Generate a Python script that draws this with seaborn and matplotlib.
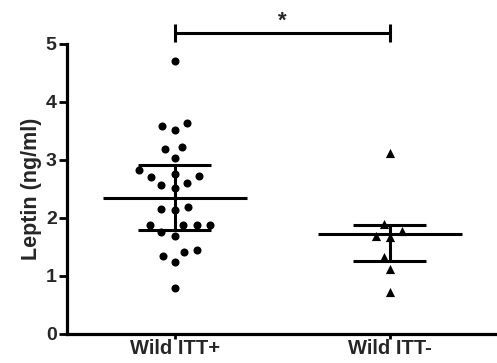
import matplotlib
matplotlib.use("Agg")
import matplotlib.pyplot as plt
import seaborn as sns
import pandas as pd

# Leptin measurements per group (ng/ml)
groups = ["Wild ITT+", "Wild ITT-"]
itt_pos = [4.70, 3.63, 3.59, 3.52, 3.22, 3.19, 3.03, 2.83, 2.75, 2.72, 2.71,
           2.61, 2.56, 2.51, 2.19, 2.16, 2.14, 1.88, 1.87, 1.87, 1.87, 1.75,
           1.69, 1.44, 1.41, 1.35, 1.24, 0.79]
itt_neg = [3.12, 1.89, 1.78, 1.69, 1.68, 1.33, 1.12, 0.72]

# Median with interquartile range for each group
medians = [2.34, 1.72]
q1 = [1.80, 1.26]
q3 = [2.91, 1.88]

y_ticks = [0, 1, 2, 3, 4, 5]
sig_label = "*"

df = pd.DataFrame({
    "group": [groups[0]] * len(itt_pos) + [groups[1]] * len(itt_neg),
    "leptin": itt_pos + itt_neg,
})

sns.set_style("ticks")
plt.rcParams["font.family"] = ["Liberation Sans", "DejaVu Sans"]
plt.rcParams["font.weight"] = "bold"

fig = plt.figure(figsize=(4.97, 3.63), dpi=100)
ax = fig.add_axes([0.135, 0.080, 0.865, 0.799])

# A transparent edge widens the spacing of the swarm without enlarging the marks
clear = (0, 0, 0, 0)
sns.swarmplot(data=df[df.group == groups[0]], x="group", y="leptin",
              order=groups, color="black", marker="o", size=5.8,
              linewidth=3.6, edgecolor=clear, ax=ax)
sns.swarmplot(data=df[df.group == groups[1]], x="group", y="leptin",
              order=groups, color="black", marker="^", size=6.6,
              linewidth=3.0, edgecolor=clear, ax=ax)

lw = 2.2
for i in range(len(groups)):
    ax.hlines(medians[i], i - 0.335, i + 0.335, color="black", lw=lw, zorder=5)
    ax.hlines([q1[i], q3[i]], i - 0.17, i + 0.17, color="black", lw=lw, zorder=5)
    ax.vlines(i, q1[i], q3[i], color="black", lw=lw, zorder=5)

# Significance bracket between the two groups
yb = 5.19
ax.plot([0, 1], [yb, yb], color="black", lw=lw, clip_on=False,
        solid_capstyle="butt")
ax.vlines([0, 1], yb - 0.16, yb + 0.16, color="black", lw=lw, clip_on=False)
ax.text(0.5, yb + 0.02, sig_label, ha="center", va="bottom", fontsize=16,
        fontweight="bold", clip_on=False)

ax.set_xlim(-0.5, 1.5)
ax.set_ylim(0, 5)
ax.set_yticks(y_ticks)
ax.set_yticklabels([str(t) for t in y_ticks], fontsize=14, fontweight="bold")
ax.set_xticks(range(len(groups)))
ax.set_xticklabels(groups, fontsize=14.5, fontweight="bold")
ax.set_xlabel("")
ax.set_ylabel("Leptin (ng/ml)", fontsize=15.5, fontweight="bold", labelpad=3)

for side in ["top", "right"]:
    ax.spines[side].set_visible(False)
for side in ["left", "bottom"]:
    ax.spines[side].set_linewidth(2.3)
    ax.spines[side].set_color("black")
    ax.spines[side].set_zorder(6)
ax.tick_params(axis="y", length=6, width=2.0, color="black", pad=1.5)
ax.tick_params(axis="x", length=3.5, width=2.0, color="black", pad=0)

fig.savefig("out.png", dpi=100, facecolor="white")
